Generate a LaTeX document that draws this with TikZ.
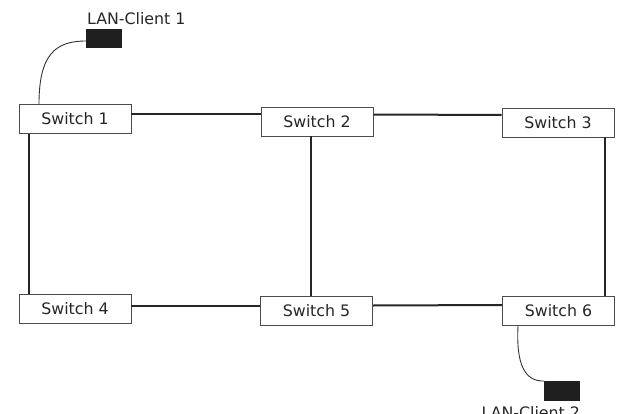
\documentclass[tikz,border=0pt]{standalone}
\usepackage{fontspec}
\setmainfont{DejaVu Sans}
\begin{document}
\begin{tikzpicture}[x=1pt,y=-1pt,
  switchbox/.style={draw=black!70,line width=0.9pt,fill=white,minimum width=112pt,minimum height=29pt,inner sep=0pt,font=\fontsize{15.8}{18}\selectfont,text=black!85},
  client/.style={fill=black!88,draw=none,minimum width=35.5pt,minimum height=19.5pt,inner sep=0pt},
  lbl/.style={font=\fontsize{15.8}{18}\selectfont,text=black!85,inner sep=0pt,anchor=base west},
  link/.style={line width=2pt,draw=black!85},
  cable/.style={line width=0.9pt,draw=black!80}]
\useasboundingbox (0,0) rectangle (623,414);
\node[switchbox] (s1) at (75,119) {Switch 1};
\node[switchbox] (s2) at (317,121.5) {Switch 2};
\node[switchbox] (s3) at (558,122.5) {Switch 3};
\node[switchbox] (s4) at (75,308.5) {Switch 4};
\node[switchbox] (s5) at (316.5,310.5) {Switch 5};
\node[switchbox] (s6) at (558.5,311) {Switch 6};
\node[client] (c1) at (104,38.5) {};
\node[client] (c2) at (562,391) {};
\node[lbl] (l1) at (87,25) {LAN-Client 1};
\node[lbl] (l2) at (481.5,418) {LAN-Client 2};
% links
\draw[link] (s1.east |- 0,114) -- (s2.west |- 0,114);
\draw[link] (s2.east |- 0,114.5) -- (s3.west |- 0,115);
\draw[link] (s4.east |- 0,306) -- (s5.west |- 0,306);
\draw[link] (s5.east |- 0,305.5) -- (s6.west |- 0,305);
\draw[link] (s1.south -| 29,0) -- (s4.north -| 29,0);
\draw[link] (s2.south -| 311,0) -- (s5.north -| 311,0);
\draw[link] (s3.south -| 605,0) -- (s6.north -| 605,0);
% cables
\draw[cable] (s1.north -| 39,0) .. controls (39,55) and (55,41) .. (c1.west |- 0,41);
\draw[cable] (s6.south -| 518,0) .. controls (516,365) and (525,381.5) .. (c2.north west);
\end{tikzpicture}
\end{document}
